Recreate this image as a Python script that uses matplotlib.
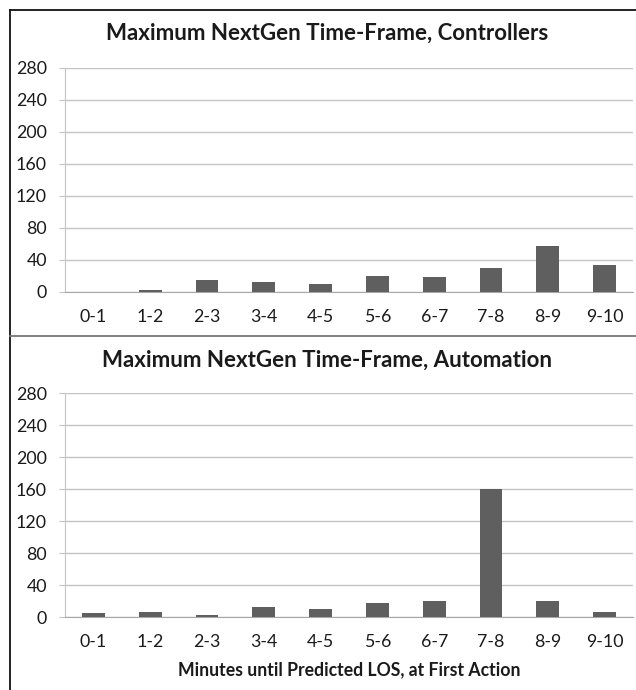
import matplotlib.pyplot as plt
from matplotlib.lines import Line2D

plt.rcParams['font.family'] = ['Lato', 'DejaVu Sans']

# data
bins = ['0-1', '1-2', '2-3', '3-4', '4-5', '5-6', '6-7', '7-8', '8-9', '9-10']
controllers = [0, 2, 15, 13, 10, 20, 19, 30, 57, 34]
automation = [5, 6, 3, 13, 10, 18, 20, 160, 20, 6]
y_ticks = [0, 40, 80, 120, 160, 200, 240, 280]

titles = ['Maximum NextGen Time-Frame, Controllers',
          'Maximum NextGen Time-Frame, Automation']
x_label = 'Minutes until Predicted LOS, at First Action'

bar_color = '#5f5f5f'
grid_color = '#c4c4c4'
text_color = '#1a1a1a'

W, H = 636, 690
fig = plt.figure(figsize=(W / 100, H / 100), dpi=100)


def fx(px):
    return px / W


def fy(py):
    return 1 - py / H


def draw_panel(ax, values, title, title_y):
    x = range(len(bins))
    ax.bar(x, values, width=0.4, color=bar_color, zorder=3)
    ax.set_xlim(-0.5, len(bins) - 0.5)
    ax.set_ylim(0, 280)
    ax.set_yticks(y_ticks)
    ax.set_xticks(list(x))
    ax.set_xticklabels(bins)
    ax.grid(axis='y', color=grid_color, linewidth=1.0, zorder=0)
    for side in ['top', 'right']:
        ax.spines[side].set_visible(False)
    ax.spines['left'].set_color(grid_color)
    ax.spines['bottom'].set_color('#a8a8a8')
    ax.tick_params(axis='y', length=4, color=grid_color, labelsize=12.8,
                   labelcolor=text_color, pad=9)
    ax.tick_params(axis='x', length=0, labelsize=12.8,
                   labelcolor=text_color, pad=12)
    fig.text(fx(327), fy(title_y), title, ha='center', va='center',
             fontsize=16, fontweight='bold', color=text_color)


ax1 = fig.add_axes([fx(65), fy(292), fx(633) - fx(65), fy(68) - fy(292)])
draw_panel(ax1, controllers, titles[0], 33)

ax2 = fig.add_axes([fx(65), fy(617), fx(633) - fx(65), fy(393) - fy(617)])
draw_panel(ax2, automation, titles[1], 360)
ax2.set_xlabel(x_label, fontsize=12.7, fontweight='bold', color=text_color,
               labelpad=8)

# outer frame pieces around the panels
fig.add_artist(Line2D([fx(9.5), fx(9.5)], [fy(9.5), 0], color='#111111', lw=1.3))
fig.add_artist(Line2D([fx(9.5), 1], [fy(9.5), fy(9.5)], color='#111111', lw=1.3))
fig.add_artist(Line2D([fx(9.5), 1], [fy(336), fy(336)], color='#777777', lw=1.3))

fig.savefig('out.png', dpi=100, facecolor='white')
